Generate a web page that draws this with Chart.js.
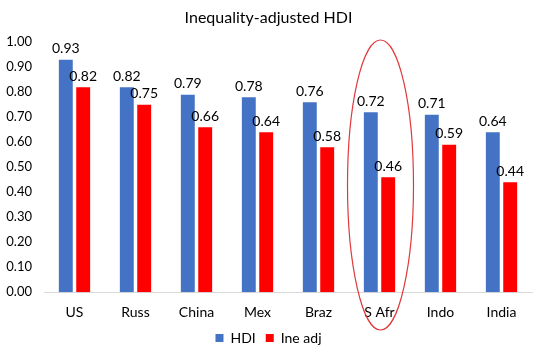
<!DOCTYPE html>
<html>
<head>
<meta charset="utf-8">
<script src="https://cdn.jsdelivr.net/npm/chart.js@4.4.0/dist/chart.umd.min.js"></script>
<style>
  html, body { margin: 0; padding: 0; background: #fff; }
  #wrap { width: 540px; height: 352px; position: relative; }
</style>
</head>
<body>
<div id="wrap"><canvas id="chart"></canvas></div>
<script>
// --- data ---
const countries = ["US", "Russ", "China", "Mex", "Braz", "S Afr", "Indo", "India"];
const hdi = [0.93, 0.82, 0.79, 0.78, 0.76, 0.72, 0.71, 0.64];
const ineAdj = [0.82, 0.75, 0.66, 0.64, 0.58, 0.46, 0.59, 0.44];
const yTicks = [0, 0.1, 0.2, 0.3, 0.4, 0.5, 0.6, 0.7, 0.8, 0.9, 1.0];
const circledIndex = 5; // S Afr

const FONT = "Lato, 'Open Sans', sans-serif";

// value labels above each bar
const barLabels = {
    id: "barLabels",
    afterDatasetsDraw(chart) {
        const ctx = chart.ctx;
        ctx.save();
        ctx.font = "14px " + FONT;
        ctx.fillStyle = "#000";
        ctx.textAlign = "center";
        ctx.textBaseline = "bottom";
        chart.data.datasets.forEach((ds, i) => {
            chart.getDatasetMeta(i).data.forEach((bar, j) => {
                ctx.fillText(ds.data[j].toFixed(2), bar.x, bar.y - 4);
            });
        });
        ctx.restore();
    }
};

// red ellipse round the highlighted country
const ellipse = {
    id: "ellipse",
    afterDraw(chart) {
        const ctx = chart.ctx;
        const x = chart.scales.x.getPixelForValue(circledIndex);
        ctx.save();
        ctx.strokeStyle = "#e0393b";
        ctx.lineWidth = 1.2;
        ctx.beginPath();
        ctx.ellipse(x + 1, 185, 33, 145, 0, 0, Math.PI * 2);
        ctx.stroke();
        ctx.restore();
    }
};

new Chart(document.getElementById("chart"), {
    type: "bar",
    data: {
        labels: countries,
        datasets: [
            { label: "HDI", data: hdi, backgroundColor: "#4472C4" },
            { label: "Ine adj", data: ineAdj, backgroundColor: "#FF0000" }
        ]
    },
    options: {
        responsive: true,
        maintainAspectRatio: false,
        animation: false,
        categoryPercentage: 0.57,
        barPercentage: 0.8,
        layout: { padding: { left: 5, right: 8, top: 0, bottom: -3 } },
        plugins: {
            title: {
                display: true,
                text: "Inequality-adjusted HDI",
                color: "#000",
                font: { family: FONT, size: 16, weight: "normal" },
                padding: { top: 8, bottom: 15 }
            },
            legend: {
                position: "bottom",
                labels: {
                    color: "#000",
                    font: { family: FONT, size: 14 },
                    boxWidth: 8,
                    boxHeight: 8,
                    padding: 10
                }
            },
            tooltip: { enabled: false }
        },
        scales: {
            x: {
                grid: { display: false, drawTicks: false },
                border: { color: "#d9d9d9" },
                ticks: { color: "#000", font: { family: FONT, size: 14 }, padding: 12 },
                afterFit: axis => { axis.height -= 12; }
            },
            y: {
                min: 0,
                max: 1,
                afterBuildTicks: axis => { axis.ticks = yTicks.map(v => ({ value: v })); },
                grid: { display: false, drawTicks: false },
                border: { display: false },
                ticks: {
                    color: "#000",
                    font: { family: FONT, size: 13 },
                    padding: 12,
                    callback: v => v.toFixed(2)
                },
                afterFit: axis => { axis.width = 39; }
            }
        }
    },
    plugins: [barLabels, ellipse]
});
</script>
</body>
</html>
